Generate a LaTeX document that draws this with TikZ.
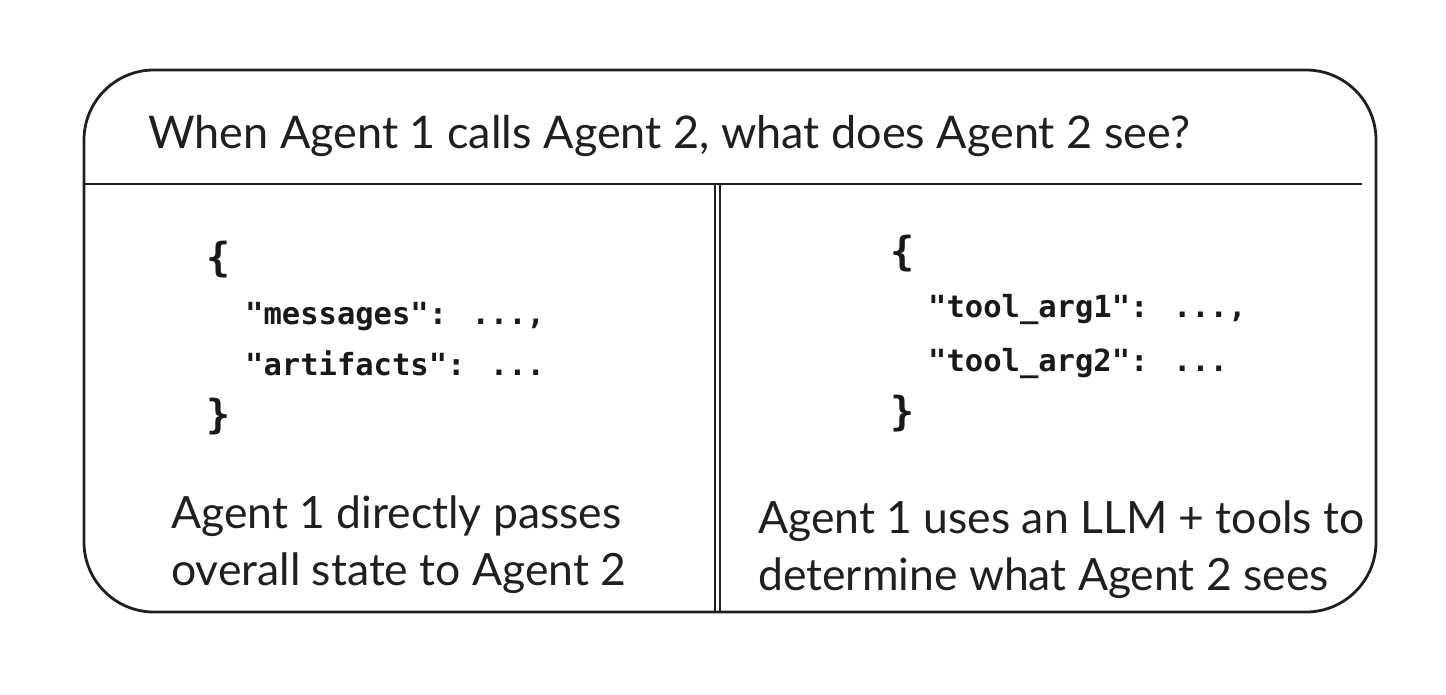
\documentclass[tikz,border=0pt]{standalone}
\usepackage{fontspec}
\setmainfont{Lato}
\newfontfamily\codefont{DejaVu Sans Mono}
\begin{document}
\begin{tikzpicture}[x=1pt,y=-1pt,
  outline/.style={draw=black!88, line width=2.8pt},
  divider/.style={draw=black!88, line width=2.6pt},
  label/.style={inner sep=0pt, anchor=base west, font=\fontsize{45}{57}\selectfont, text=black!88},
  caption/.style={inner sep=0pt, anchor=base west, align=left, font=\fontsize{44.5}{57}\selectfont, text=black!88},
  codeline/.style={inner sep=0pt, anchor=base west, font=\codefont\bfseries\fontsize{30.5}{40}\selectfont, text=black!90},
  brace/.style={codeline, font=\codefont\bfseries\fontsize{40}{48}\selectfont}]
  \useasboundingbox (0,0) rectangle (1446,694);

  % outer frame
  \node[outline, rounded corners=70pt, minimum width=1292pt, minimum height=542pt, inner sep=0pt]
    (frame) at (730,341) {};

  % header rule and column separator
  \coordinate (ruleL) at (84,184);
  \coordinate (ruleR) at (1362,184);
  \draw[divider] (ruleL) -- (ruleR);
  \coordinate (sepTopA) at (715,185);
  \coordinate (sepBotA) at (715,612);
  \coordinate (sepTopB) at (719.5,185);
  \coordinate (sepBotB) at (719.5,612);
  \draw[divider, line width=2pt] (sepTopA) -- (sepBotA);
  \draw[divider, line width=2pt] (sepTopB) -- (sepBotB);

  % title
  \node[label] (title) at (148,148) {When Agent 1 calls Agent 2, what does Agent 2 see?};

  % left column: state object
  \node[brace] (lopen) at (206,271) {\{};
  \node[codeline] (lmsg)  at (245,324) {"messages": ...,};
  \node[codeline] (lart)  at (245,375) {"artifacts": ...};
  \node[brace] (lclose) at (206,428) {\}};
  % (base anchor of a two-line node is its last line)
  \node[caption] (leftcap) at (171,585) {Agent 1 directly passes\\overall state to Agent 2};

  % right column: tool arguments
  \node[brace] (ropen) at (890,265) {\{};
  \node[codeline] (rarg1) at (928,317) {"tool\_arg1": ...,};
  \node[codeline] (rarg2) at (928,371) {"tool\_arg2": ...};
  \node[brace] (rclose) at (890,425) {\}};
  \node[caption] (rightcap) at (758,590) {Agent 1 uses an LLM + tools to\\determine what Agent 2 sees};
\end{tikzpicture}
\end{document}
